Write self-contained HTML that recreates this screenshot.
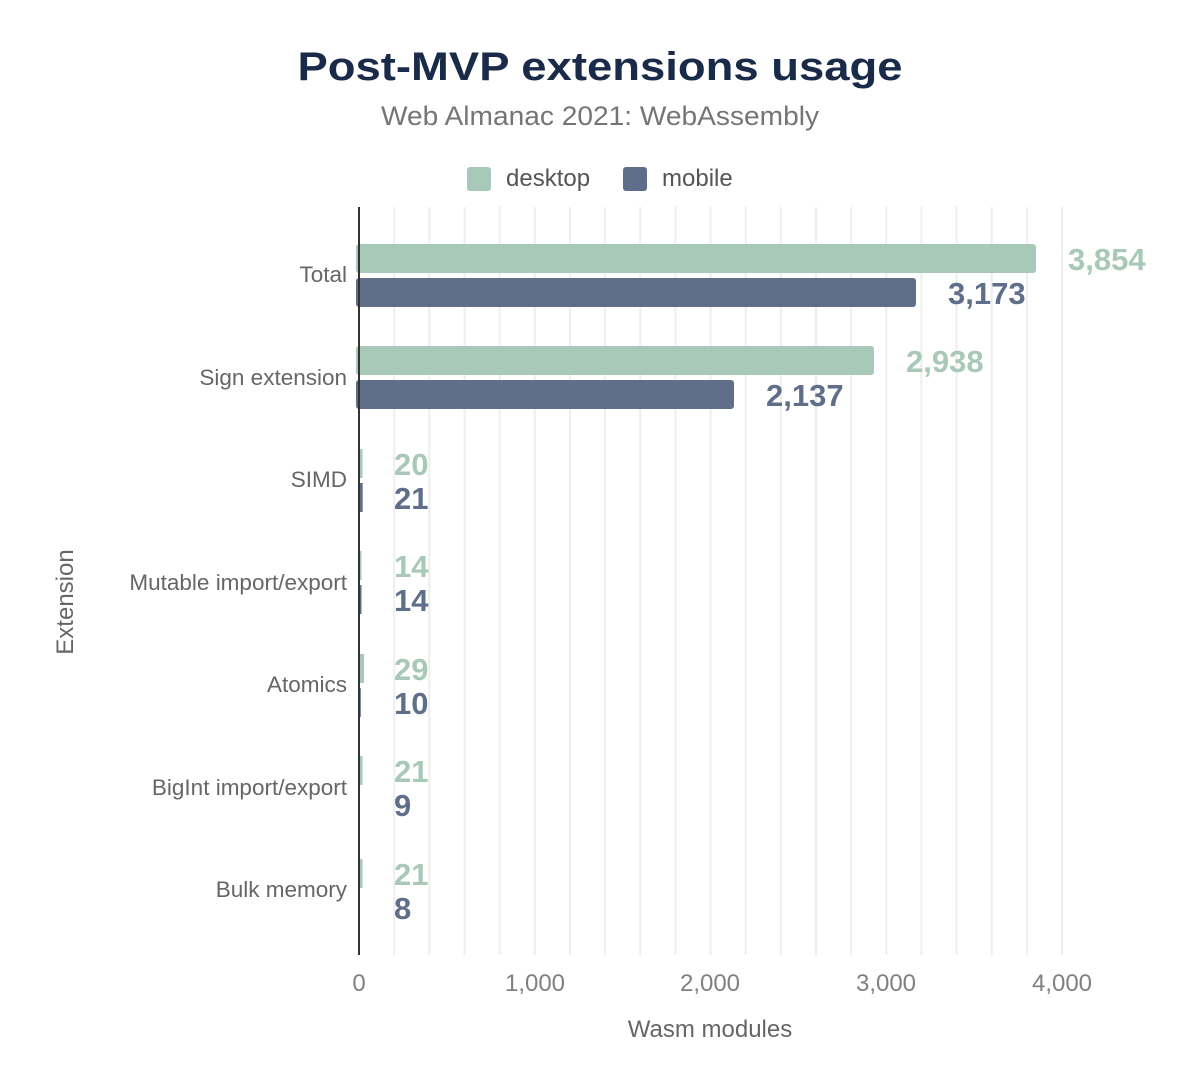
<!DOCTYPE html>
<html><head><meta charset="utf-8"><style>
html,body{margin:0;padding:0;background:#fff;}
svg{display:block;font-family:"Liberation Sans",Arial,sans-serif;}
</style></head><body>
<svg width="1200" height="1084" viewBox="0 0 1200 1084" xmlns="http://www.w3.org/2000/svg">
<text x="600" y="80" text-anchor="middle" font-size="40" font-weight="bold" fill="#1a2b49" textLength="605" lengthAdjust="spacingAndGlyphs">Post-MVP extensions usage</text>
<text x="600" y="125" text-anchor="middle" font-size="27" fill="#757575" textLength="438" lengthAdjust="spacingAndGlyphs">Web Almanac 2021: WebAssembly</text>
<rect x="467" y="167" width="24" height="24" rx="3" fill="#a8c8b8"/>
<text x="506" y="186" font-size="24" fill="#555">desktop</text>
<rect x="623" y="167" width="24" height="24" rx="3" fill="#5f6f8a"/>
<text x="662" y="186" font-size="24" fill="#555">mobile</text>
<g stroke="#eeeeee" stroke-width="2">
<line x1="394.2" y1="207" x2="394.2" y2="955"/><line x1="429.3" y1="207" x2="429.3" y2="955"/><line x1="464.5" y1="207" x2="464.5" y2="955"/><line x1="499.6" y1="207" x2="499.6" y2="955"/><line x1="534.8" y1="207" x2="534.8" y2="955"/><line x1="569.9" y1="207" x2="569.9" y2="955"/><line x1="605.1" y1="207" x2="605.1" y2="955"/><line x1="640.2" y1="207" x2="640.2" y2="955"/><line x1="675.4" y1="207" x2="675.4" y2="955"/><line x1="710.5" y1="207" x2="710.5" y2="955"/><line x1="745.7" y1="207" x2="745.7" y2="955"/><line x1="780.8" y1="207" x2="780.8" y2="955"/><line x1="816" y1="207" x2="816" y2="955"/><line x1="851.1" y1="207" x2="851.1" y2="955"/><line x1="886.3" y1="207" x2="886.3" y2="955"/><line x1="921.4" y1="207" x2="921.4" y2="955"/><line x1="956.6" y1="207" x2="956.6" y2="955"/><line x1="991.7" y1="207" x2="991.7" y2="955"/><line x1="1026.9" y1="207" x2="1026.9" y2="955"/><line x1="1062" y1="207" x2="1062" y2="955"/>
</g>
<g font-size="22.5" fill="#666" text-anchor="end">
<text x="347" y="282">Total</text><text x="347" y="385">Sign extension</text><text x="347" y="487">SIMD</text><text x="347" y="590">Mutable import/export</text><text x="347" y="692">Atomics</text><text x="347" y="795">BigInt import/export</text><text x="347" y="897">Bulk memory</text>
</g>
<g fill="#a8c8b8">
<rect x="356" y="244" width="680" height="29" rx="3"/>
<rect x="356" y="346" width="518" height="29" rx="3"/>
<rect x="359" y="449" width="3.5" height="29"/>
<rect x="359" y="551" width="2.5" height="29"/>
<rect x="359" y="654" width="5" height="29"/>
<rect x="359" y="756" width="3.5" height="29"/>
<rect x="359" y="859" width="3.5" height="29"/>
</g>
<g fill="#5f6f8a">
<rect x="356" y="278" width="560" height="29" rx="3"/>
<rect x="356" y="380" width="378" height="29" rx="3"/>
<rect x="359" y="483" width="3.7" height="29"/>
<rect x="359" y="585" width="2.5" height="29"/>
<rect x="359" y="688" width="1.8" height="29"/>
</g>
<line x1="359" y1="207" x2="359" y2="955" stroke="#333" stroke-width="2"/>
<g font-size="31" font-weight="bold" fill="#a8c8b8">
<text x="1068" y="270">3,854</text><text x="906" y="372">2,938</text><text x="394" y="475">20</text><text x="394" y="577">14</text><text x="394" y="680">29</text><text x="394" y="782">21</text><text x="394" y="885">21</text>
</g>
<g font-size="31" font-weight="bold" fill="#5f6f8a">
<text x="948" y="304">3,173</text><text x="766" y="406">2,137</text><text x="394" y="509">21</text><text x="394" y="611">14</text><text x="394" y="714">10</text><text x="394" y="816">9</text><text x="394" y="919">8</text>
</g>
<g font-size="24" fill="#808080" text-anchor="middle">
<text x="359" y="991">0</text><text x="535" y="991">1,000</text><text x="710" y="991">2,000</text><text x="886" y="991">3,000</text><text x="1062" y="991">4,000</text>
</g>
<text x="710" y="1037" text-anchor="middle" font-size="24" fill="#666">Wasm modules</text>
<text transform="translate(73,602) rotate(-90)" text-anchor="middle" font-size="24" fill="#666">Extension</text>
</svg>
</body></html>
